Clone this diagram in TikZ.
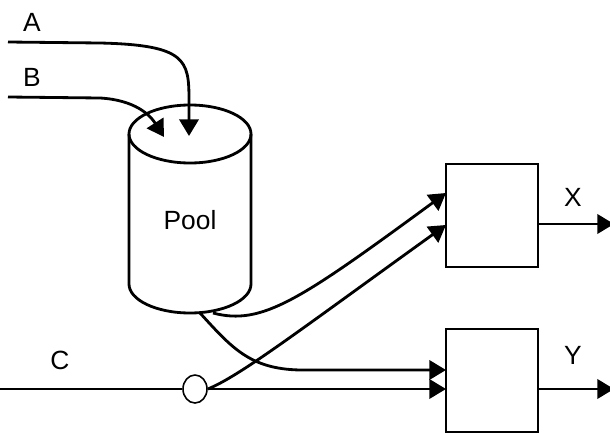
\documentclass[tikz,border=0pt]{standalone}
\usepackage{fontspec}
\setmainfont{Liberation Sans}
\usetikzlibrary{arrows.meta,shapes.geometric}

\tikzset{
  line/.style={line width=1.6pt},
  flow/.style={line, -{Triangle[length=9.5pt,width=11pt]}},
  unit/.style={draw, line width=1.6pt, minimum width=1.84cm, minimum height=2.06cm, inner sep=0pt},
  lbl/.style={font=\fontsize{15}{17}\selectfont, inner sep=0pt}
}

\begin{document}
\begin{tikzpicture}[x=0.02cm,y=-0.02cm]
      \useasboundingbox (0,0) rectangle (610,433);

      % pool
      \draw[line] (190,134) ellipse [x radius=61, y radius=29];
      \draw[line] (129,134) -- (129,284) arc[start angle=180, end angle=0, x radius=61, y radius=29] -- (251,134);
      \node[lbl] (pool) at (190,220) {Pool};
      \coordinate (inA) at (189,136);
      \coordinate (inB) at (164,137);
      \coordinate (outP1) at (213,313);
      \coordinate (outP2) at (200,313);

      % units
      \node[unit] (boxX) at (492,215.5) {};
      \node[unit] (boxY) at (492,380.5) {};
      \coordinate (x1) at (446,193);
      \coordinate (x2) at (446,225);
      \coordinate (y1) at (446,370);
      \coordinate (y2) at (446,389);

      % sources
      \node[lbl] (A) at (32,22) {A};
      \node[lbl] (B) at (32,77) {B};
      \node[lbl] (C) at (60,360) {C};
      \coordinate (a0) at (8,42);
      \coordinate (b0) at (8,97);
      \coordinate (c0) at (0,389);
      \node[draw, ellipse, line width=0.9pt, fill=white, minimum width=0.48cm, minimum height=0.56cm, inner sep=0pt] (split) at (195,389) {};

      % outputs
      \node[lbl] (X) at (573,197) {X};
      \node[lbl] (Y) at (573,355) {Y};
      \coordinate (outX) at (614,224);
      \coordinate (outY) at (614,389);

      \draw[flow] (a0) -- (100,43) .. controls (186,45) and (189,60) .. (189,100) -- (inA);
      \draw[flow] (b0) -- (100,98) .. controls (135,100) and (150,115) .. (inB);

      \draw[flow] (outP1) .. controls (262,326) and (300,300) .. (x1);
      \draw[flow] (split.east) .. controls (240,376) and (300,330) .. (x2);
      \draw[flow] (outP2) .. controls (232,348) and (250,369) .. (300,370) -- (y1);

      \draw[line] (c0) -- (split);
      \draw[flow] (split) -- (y2);

      \draw[flow] (boxX.east |- outX) -- (outX);
      \draw[flow] (boxY.east |- outY) -- (outY);
\end{tikzpicture}
\end{document}
